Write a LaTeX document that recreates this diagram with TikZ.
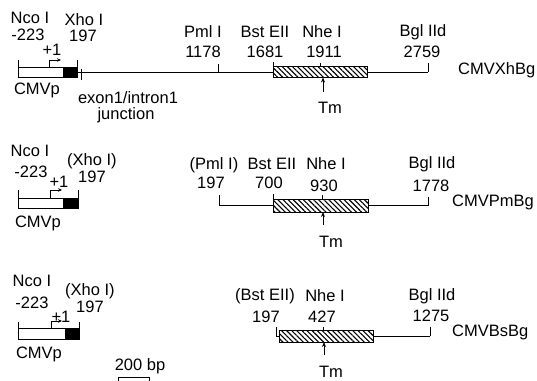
\documentclass[tikz,border=0pt]{standalone}
\usepackage{fontspec}
\setmainfont{Liberation Sans}
\usetikzlibrary{patterns.meta,arrows.meta}
\tikzset{
  lbl/.style={font=\fontsize{16.5}{19}\selectfont, inner sep=0pt, anchor=center},
  ln/.style={line width=1pt},
  hatch/.style={ln, pattern={Lines[angle=-45,distance=3.6pt,line width=1.1pt]}},
  tm/.style={line width=0.9pt, -{Stealth[length=5pt,width=4pt]}},
  tss/.style={line width=0.9pt, -{Stealth[length=4pt,width=3.5pt]}}
}
\begin{document}
\begin{tikzpicture}[x=1pt,y=-1pt]
\useasboundingbox (0,0) rectangle (537,380);

% ---------- Row 1: CMVXhBg ----------
\draw[ln] (18,67) rectangle (77,77);
\fill (63,67) rectangle (77,77);
\draw[ln] (18,60) -- (18,67);
\draw[ln] (77,60) -- (77,67);
\draw[tss] (49,67) -- (49,60) -- (61,60);
\draw[ln] (77,72) -- (273,72);
\draw[ln] (81,69) -- (81,80);
\draw[ln] (218,64) -- (218,72);
\draw[hatch] (273,66) rectangle (367,77.5);
\draw[ln] (273,62) -- (273,66);
\draw[ln] (320,63) -- (320,66);
\draw[tm] (323,92) -- (323,77.5);
\draw[ln] (367,72) -- (428,72);
\draw[ln] (428,63) -- (428,72);

\node[lbl] (nco1) at (30,18) {Nco I};
\node[lbl] (m1) at (28,34.5) {-223};
\node[lbl] (p1) at (52,50) {+1};
\node[lbl] (xho1) at (84,20) {Xho I};
\node[lbl] (x1) at (83,36) {197};
\node[lbl,anchor=base] (cmvp1) at (37,94) {CMVp};
\node[lbl,anchor=base] (exon) at (128,103) {exon1/intron1};
\node[lbl,anchor=base] (junc) at (126,119) {junction};
\node[lbl] (pml1) at (203,32) {Pml I};
\node[lbl] (pmln1) at (203,52) {1178};
\node[lbl] (bst1) at (265,32) {Bst EII};
\node[lbl] (bstn1) at (265,52) {1681};
\node[lbl] (nhe1) at (322,32) {Nhe I};
\node[lbl] (nhen1) at (324,52) {1911};
\node[lbl] (tm1) at (330,108) {Tm};
\node[lbl] (bgl1) at (423,32) {Bgl IId};
\node[lbl] (bgln1) at (422,52) {2759};
\node[lbl,anchor=west] (name1) at (458,70) {CMVXhBg};

% ---------- Row 2: CMVPmBg ----------
\draw[ln] (18,198) rectangle (78,208);
\fill (63,198) rectangle (78,208);
\draw[ln] (18,190) -- (18,198);
\draw[ln] (78,190) -- (78,198);
\draw[tss] (50,198) -- (50,190) -- (62,190);
\draw[ln] (219,195) -- (219,205.5) -- (273,205.5);
\draw[hatch] (273,199) rectangle (368,212);
\draw[ln] (273,194) -- (273,199);
\draw[ln] (322,195) -- (322,199);
\draw[tm] (323,225) -- (323,212);
\draw[ln] (368,205.5) -- (428,205.5);
\draw[ln] (428,197) -- (428,205.5);

\node[lbl] (nco2) at (30,151) {Nco I};
\node[lbl] (m2) at (31,172) {-223};
\node[lbl] (p2) at (59,182) {+1};
\node[lbl] (xho2) at (92,161) {(Xho I)};
\node[lbl] (x2) at (92,177) {197};
\node[lbl,anchor=base] (cmvp2) at (38,227) {CMVp};
\node[lbl] (pml2) at (214,165) {(Pml I)};
\node[lbl] (pmln2) at (211,183) {197};
\node[lbl] (bst2) at (272,164) {Bst EII};
\node[lbl] (bstn2) at (269,183) {700};
\node[lbl] (nhe2) at (326,164) {Nhe I};
\node[lbl] (nhen2) at (324,186) {930};
\node[lbl] (tm2) at (331,242) {Tm};
\node[lbl] (bgl2) at (432,164) {Bgl IId};
\node[lbl] (bgln2) at (431,186) {1778};
\node[lbl,anchor=west] (name2) at (452,202) {CMVPmBg};

% ---------- Row 3: CMVBsBg ----------
\draw[ln] (18,328) rectangle (79,339);
\fill (65,328) rectangle (79,339);
\draw[ln] (18,322) -- (18,328);
\draw[ln] (79,322) -- (79,328);
\draw[tss] (51,328) -- (51,321) -- (62,321);
\draw[ln] (276,327) -- (276,336) -- (279,336);
\draw[hatch] (279,330) rectangle (373,342);
\draw[ln] (323,327) -- (323,330);
\draw[tm] (324,355) -- (324,342);
\draw[ln] (373,336) -- (430,336);
\draw[ln] (430,327) -- (430,336);

\node[lbl] (nco3) at (32,281) {Nco I};
\node[lbl] (m3) at (32,303) {-223};
\node[lbl] (p3) at (61,317) {+1};
\node[lbl] (xho3) at (90,291) {(Xho I)};
\node[lbl] (x3) at (90,307) {197};
\node[lbl,anchor=base] (cmvp3) at (39,358) {CMVp};
\node[lbl] (bst3) at (265,296) {(Bst EII)};
\node[lbl] (nhe3) at (325,296) {Nhe I};
\node[lbl] (bstn3) at (266,317) {197};
\node[lbl] (nhen3) at (322,317) {427};
\node[lbl] (tm3) at (331,372) {Tm};
\node[lbl] (bgl3) at (432,296) {Bgl IId};
\node[lbl] (bgln3) at (431,316) {1275};
\node[lbl,anchor=west] (name3) at (452,332) {CMVBsBg};

% scale bar
\node[lbl] (scale) at (140,366) {200 bp};
\coordinate (sbl) at (118,377.5);
\coordinate (sbr) at (149,377.5);
\draw[line width=0.9pt] ([yshift=-3pt]sbl) -- (sbl) -- (sbr) -- ([yshift=-3pt]sbr);
\end{tikzpicture}
\end{document}
